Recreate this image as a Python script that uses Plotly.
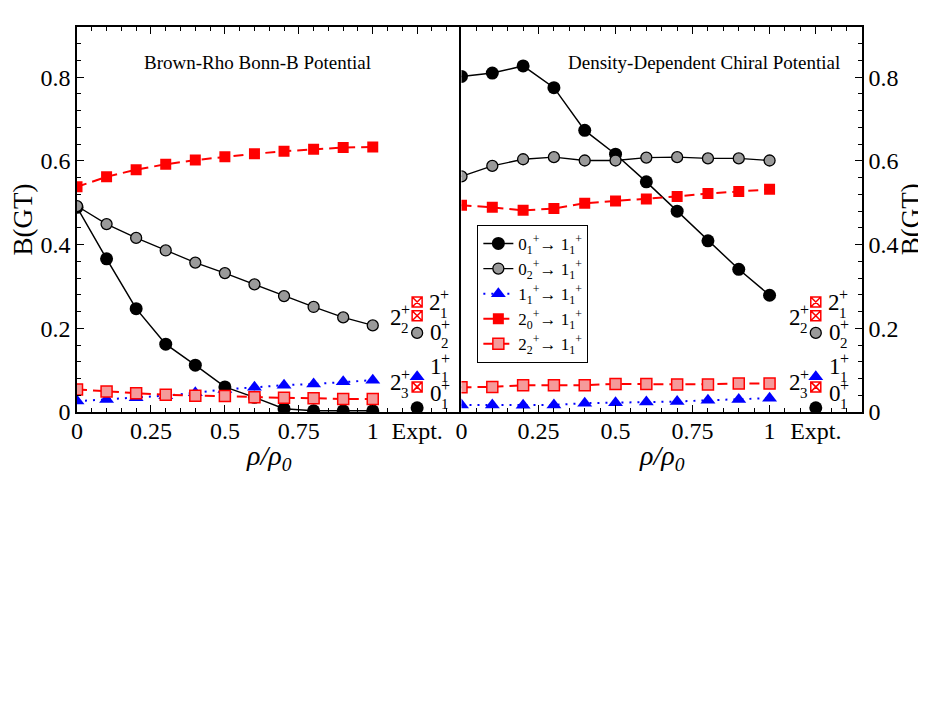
import plotly.graph_objects as go

# density ratio rho/rho0
rho = [0, 0.1, 0.2, 0.3, 0.4, 0.5, 0.6, 0.7, 0.8, 0.9, 1.0]

# Brown-Rho Bonn-B potential
bonn_01 = [0.489, 0.366, 0.247, 0.162, 0.112, 0.060, 0.035, 0.008, 0.003, 0.003, 0.003]
bonn_02 = [0.492, 0.449, 0.416, 0.386, 0.357, 0.332, 0.305, 0.277, 0.251, 0.226, 0.207]
bonn_11 = [0.026, 0.030, 0.034, 0.039, 0.046, 0.054, 0.059, 0.064, 0.067, 0.072, 0.076]
bonn_20 = [0.538, 0.562, 0.579, 0.592, 0.602, 0.610, 0.617, 0.623, 0.628, 0.632, 0.633]
bonn_22 = [0.054, 0.049, 0.045, 0.041, 0.039, 0.038, 0.035, 0.034, 0.033, 0.031, 0.031]

# density-dependent chiral potential
chiral_01 = [0.802, 0.810, 0.827, 0.775, 0.673, 0.616, 0.550, 0.480, 0.409, 0.341, 0.279]
chiral_02 = [0.563, 0.588, 0.604, 0.609, 0.601, 0.601, 0.608, 0.609, 0.606, 0.606, 0.601]
chiral_11 = [0.017, 0.017, 0.016, 0.017, 0.021, 0.022, 0.024, 0.025, 0.028, 0.030, 0.033]
chiral_20 = [0.494, 0.489, 0.482, 0.486, 0.499, 0.504, 0.509, 0.515, 0.522, 0.527, 0.532]
chiral_22 = [0.059, 0.060, 0.064, 0.064, 0.064, 0.067, 0.067, 0.066, 0.066, 0.068, 0.068]

# experiment, drawn at the "Expt." slot
expt_pos = 1.15
expt_base = ["2", "2", "0", "1", "2", "0"]
expt_sub = ["1", "2", "2", "1", "3", "1"]
expt_vals = [0.263, 0.230, 0.189, 0.084, 0.060, 0.010]
expt_kind = ["sqx", "sqx", "02", "11", "sqx", "01"]

tick_vals = [0, 0.25, 0.5, 0.75, 1, expt_pos]
tick_text = ["0", "0.25", "0.5", "0.75", "1", "Expt."]

FONT = "Liberation Serif"
RED = "#ff0000"
BLUE = "#0000ff"

styles = {
    "01": dict(line=dict(color="black", width=1.5),
               marker=dict(symbol="circle", size=13, color="black")),
    "02": dict(line=dict(color="black", width=1.3),
               marker=dict(symbol="circle", size=11, color="#9a9a9a",
                           line=dict(color="black", width=1.3))),
    "11": dict(line=dict(color=BLUE, width=2, dash="2px,6px"),
               marker=dict(symbol="triangle-up", size=13, color=BLUE)),
    "20": dict(line=dict(color=RED, width=2, dash="10px,6px"),
               marker=dict(symbol="square", size=11, color=RED)),
    "22": dict(line=dict(color=RED, width=2, dash="10px,6px"),
               marker=dict(symbol="square", size=11, color="#f59a9a",
                           line=dict(color=RED, width=1.5))),
    "sqx": dict(marker=dict(symbol="square-x-open", size=10, color=RED,
                            line=dict(color=RED, width=1.5))),
}

names = {
    "01": "0<sub>1</sub><sup>+</sup>\u2192 1<sub>1</sub><sup>+</sup>",
    "02": "0<sub>2</sub><sup>+</sup>\u2192 1<sub>1</sub><sup>+</sup>",
    "11": "1<sub>1</sub><sup>+</sup>\u2192 1<sub>1</sub><sup>+</sup>",
    "20": "2<sub>0</sub><sup>+</sup>\u2192 1<sub>1</sub><sup>+</sup>",
    "22": "2<sub>2</sub><sup>+</sup>\u2192 1<sub>1</sub><sup>+</sup>",
}
rank = {"01": 1, "02": 2, "11": 3, "20": 4, "22": 5}

fig = go.Figure()

# drawing order: triangles, filled circles, hatched circles, squares
panels = [
    ("x", "y", {"11": bonn_11, "01": bonn_01, "02": bonn_02, "20": bonn_20, "22": bonn_22}, False),
    ("x2", "y2", {"11": chiral_11, "01": chiral_01, "02": chiral_02, "20": chiral_20, "22": chiral_22}, True),
]
for xa, ya, series, show in panels:
    for key, vals in series.items():
        st = styles[key]
        fig.add_trace(go.Scatter(x=rho, y=vals, mode="lines+markers", xaxis=xa, yaxis=ya,
                                 name=names[key], legendrank=rank[key], showlegend=show,
                                 line=st["line"], marker=st["marker"]))
    for kind, v in zip(expt_kind, expt_vals):
        fig.add_trace(go.Scatter(x=[expt_pos], y=[v], mode="markers", xaxis=xa, yaxis=ya,
                                 marker=styles[kind]["marker"], showlegend=False))

# level labels next to the experimental points
label_dx = [11, -28, 12, 12, -28, 12]
label_dy = [-1, -2, 0, 10, 4, 14]


def add_level(xref, yref, y, base, sub, dx, dy):
    common = dict(x=expt_pos, y=y, xref=xref, yref=yref, showarrow=False,
                  xanchor="left", yanchor="middle", borderpad=0)
    fig.add_annotation(text=base, xshift=dx, yshift=dy,
                       font=dict(family=FONT, size=23, color="black"), **common)
    fig.add_annotation(text="+", xshift=dx + 11, yshift=dy + 8,
                       font=dict(family=FONT, size=16, color="black"), **common)
    fig.add_annotation(text=sub, xshift=dx + 11, yshift=dy - 10,
                       font=dict(family=FONT, size=15, color="black"), **common)


for xa, ya in [("x", "y"), ("x2", "y2")]:
    for b, s, v, dx, dy in zip(expt_base, expt_sub, expt_vals, label_dx, label_dy):
        add_level(xa, ya, v, b, s, dx, dy)

# panel titles
fig.add_annotation(text="Brown-Rho Bonn-B Potential", x=0.611, y=0.835, xref="x", yref="y",
                   showarrow=False, xanchor="center", yanchor="middle",
                   font=dict(family=FONT, size=19, color="black"))
fig.add_annotation(text="Density-Dependent Chiral Potential", x=1.235, y=0.835, xref="x2", yref="y2",
                   showarrow=False, xanchor="right", yanchor="middle",
                   font=dict(family=FONT, size=19, color="black"))

split = 0.4898

# y-axis titles on both sides
for xp in [-0.07, 1.062]:
    fig.add_annotation(text="B(GT)", x=xp, y=0.5, xref="paper", yref="paper", textangle=-90,
                       showarrow=False, xanchor="center", yanchor="middle", borderpad=0,
                       font=dict(family=FONT, size=27, color="black"))

# x-axis titles under each panel
for xp in [split / 2, (split + 1) / 2]:
    fig.add_annotation(text="<i>\u03c1/\u03c1<sub>0</sub></i>", x=xp, y=-0.118, xref="paper", yref="paper",
                       showarrow=False, xanchor="center", yanchor="middle",
                       font=dict(family=FONT, size=28, color="black"))

xcommon = dict(range=[0, 1.3], tickvals=tick_vals, ticktext=tick_text, ticks="inside", ticklen=7,
               tickwidth=1, tickcolor="black", showline=True, linecolor="black", linewidth=1.5,
               mirror="ticks", showgrid=False, zeroline=False, ticklabelstandoff=-4,
               minor=dict(dtick=0.05, ticks="inside", ticklen=4, tickcolor="black"),
               tickfont=dict(family=FONT, size=24, color="black"))
ycommon = dict(range=[0, 0.92], tickvals=[0, 0.2, 0.4, 0.6, 0.8], ticktext=["0", "0.2", "0.4", "0.6", "0.8"],
               ticks="inside", ticklen=7, tickwidth=1, tickcolor="black", showline=True,
               linecolor="black", linewidth=1.5, showgrid=False, zeroline=False,
               minor=dict(dtick=0.04, ticks="inside", ticklen=4, tickcolor="black"),
               tickfont=dict(family=FONT, size=24, color="black"))

# the page body adds an 8px offset, so the margins are shifted to compensate
fig.update_layout(
    width=926, height=716,
    margin=dict(l=69, r=72, t=19, b=312),
    paper_bgcolor="white", plot_bgcolor="white",
    font=dict(family=FONT, color="black"),
    xaxis=dict(domain=[0, split], anchor="y", **xcommon),
    xaxis2=dict(domain=[split, 1], anchor="y2", **xcommon),
    yaxis=dict(domain=[0, 1], anchor="x", side="left", mirror=False, **ycommon),
    yaxis2=dict(domain=[0, 1], anchor="x2", side="right", mirror=True, **ycommon),
    legend=dict(x=0.51, y=0.486, xanchor="left", yanchor="top", bgcolor="white",
                bordercolor="black", borderwidth=1, tracegroupgap=0, itemwidth=30,
                font=dict(family=FONT, size=17, color="black")),
)

fig.write_html("out.html")
